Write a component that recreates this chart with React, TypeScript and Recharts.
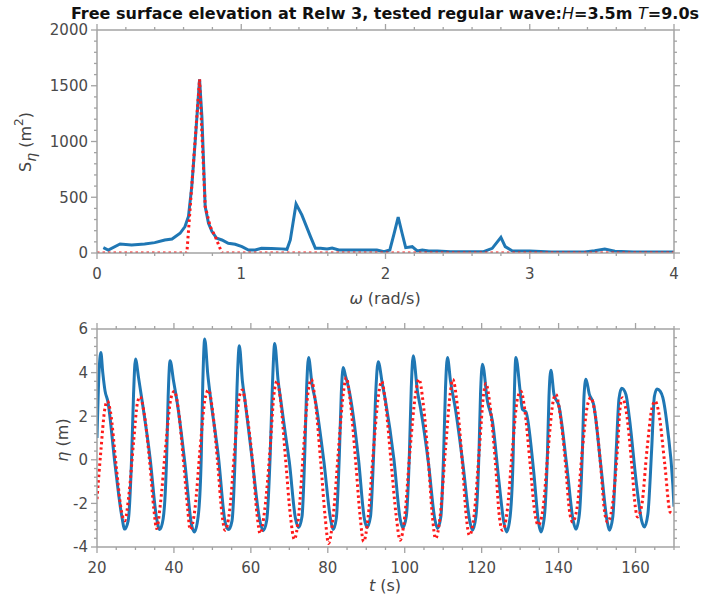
import React from 'react';
import { LineChart, Line, XAxis, YAxis } from 'recharts';

const FONT = '"DejaVu Sans", Verdana, sans-serif';
const BLUE = '#1f77b4';
const RED = '#ff1a1a';
const AXIS = '#a3a3a3';
const TICK_TEXT = '#4a4a4a';

// ---------- Spectrum (top panel) ----------
const specOmegaBlue = [
  0.044, 0.078, 0.16, 0.24, 0.33, 0.4, 0.47, 0.52, 0.576, 0.61, 0.634, 0.657, 0.68, 0.711, 0.727,
  0.75, 0.773, 0.797, 0.83, 0.866, 0.91, 0.958, 1.005, 1.05, 1.097, 1.14, 1.21, 1.28, 1.317, 1.34,
  1.38, 1.42, 1.48, 1.514, 1.55, 1.595, 1.63, 1.676, 1.757, 1.85, 1.94, 1.99, 2.03, 2.06, 2.088,
  2.115, 2.14, 2.185, 2.22, 2.255, 2.3, 2.36, 2.45, 2.57, 2.68, 2.74, 2.8, 2.83, 2.88, 2.94, 3.0,
  3.15, 3.38, 3.45, 3.52, 3.59, 3.72, 4.0,
];
const specSBlue = [
  48, 27, 81, 72, 81, 93, 117, 126, 177, 237, 327, 597, 988, 1558, 1228,
  417, 267, 192, 132, 117, 87, 78, 57, 27, 27, 42, 40, 37, 33, 117,
  440, 342, 147, 42, 42, 36, 45, 27, 27, 27, 27, 12, 27, 177, 321,
  177, 48, 57, 18, 27, 18, 18, 12, 12, 12, 42, 141, 57, 18, 18, 18,
  10, 10, 21, 36, 15, 10, 10,
];
const specOmegaRed = [0, 0.623, 0.711, 0.75, 0.785, 0.82, 0.866, 4.0];
const specSRed = [0, 0, 1558, 417, 237, 147, 0, 0];

// ---------- Time series (bottom panel) ----------
const timeBlue = [
  20.0, 20.5, 21.0, 21.5, 22.1, 22.8, 24.7, 26.4, 27.2, 28.1, 29.0, 29.5, 30.0, 30.8, 31.6, 33.8,
  35.5, 36.3, 37.2, 38.1, 38.5, 39.0, 39.9, 40.8, 42.9, 44.6, 45.3, 46.3, 47.1, 47.5, 48.0, 48.8,
  49.4, 51.6, 53.3, 54.2, 55.1, 55.9, 56.4, 57.0, 57.8, 58.5, 60.3, 62.4, 63.2, 64.1, 65.0, 65.6,
  66.2, 67.1, 67.8, 69.0, 70.0, 71.6, 72.4, 73.3, 74.0, 74.5, 75.0, 75.9, 76.8, 79.0, 80.7, 81.4,
  82.2, 83.0, 83.5, 84.0, 84.6, 85.4, 88.0, 89.5, 90.2, 91.1, 91.9, 92.5, 93.1, 94.2, 95.0, 97.2,
  98.8, 99.5, 100.4, 101.2, 101.7, 102.2, 103.3, 104.1, 106.2, 107.8, 108.5, 109.4, 110.1, 110.6,
  111.1, 111.9, 113.2, 115.2, 116.9, 117.6, 118.5, 119.3, 119.7, 120.2, 121.5, 122.8, 124.5, 125.8,
  126.5, 127.4, 128.2, 128.5, 128.9, 130.0, 130.6, 131.5, 133.5, 134.8, 135.4, 136.3, 137.1, 137.5,
  138.0, 138.8, 140.1, 142.2, 143.8, 144.5, 145.4, 146.2, 146.6, 147.1, 148.0, 149.1, 151.0, 152.6,
  153.2, 154.1, 155.0, 155.7, 156.4, 157.5, 158.4, 160.3, 161.6, 162.3, 163.2, 164.2, 164.9, 165.6,
  166.4, 167.1, 168.4, 169.7, 170.0,
];
const etaBlue = [
  1.0, 3.9, 4.92, 4.0, 3.15, 2.69, -0.23, -2.54, -3.18, -2.8, 0.1, 3.0, 4.62, 3.77, 2.85, 0.08,
  -2.69, -3.2, -2.7, 0.1, 2.9, 4.54, 3.61, 2.69, -0.23, -3.0, -3.31, -2.6, 0.1, 3.5, 5.54, 3.92,
  3.0, 0.08, -2.85, -3.2, -2.8, 0.1, 3.3, 5.23, 3.61, 2.69, 0.08, -2.85, -3.25, -2.8, 0.1, 3.4,
  5.33, 3.61, 2.7, 1.15, -0.1, -2.7, -3.1, -2.6, 0.2, 3.3, 4.69, 3.46, 2.69, -0.1, -2.7, -3.2,
  -2.7, 0.2, 3.0, 4.23, 3.85, 3.31, 0.0, -2.7, -3.1, -2.6, 0.2, 3.2, 4.5, 3.46, 2.7, 0.0,
  -2.7, -3.12, -2.6, 0.2, 3.3, 4.77, 3.15, 2.38, -0.2, -2.7, -3.15, -2.6, 0.2, 3.3,
  4.69, 3.61, 2.31, -0.3, -2.8, -3.23, -2.6, 0.3, 3.0, 4.38, 2.69, 1.77, -1.0, -2.9,
  -3.31, -2.6, 0.3, 3.0, 4.69, 3.15, 2.31, 2.2, -0.5, -2.9, -3.31, -2.6, 0.3, 2.9,
  4.11, 3.0, 2.46, -0.4, -2.8, -3.18, -2.5, 0.5, 2.9, 3.69, 3.0, 2.54, -0.3, -2.8,
  -3.23, -2.6, 0.5, 2.8, 3.28, 3.0, 1.92, -1.2, -2.8, -3.08, -2.5, 0.5, 2.9, 3.25,
  3.15, 2.85, 1.31, -1.15, -2.15,
];
const timeRed = [
  20.0, 21.0, 22.0, 22.7, 23.5, 25.0, 26.4, 27.2, 28.3, 29.5, 30.5, 31.2, 32.2, 33.8, 34.8, 35.5,
  36.5, 37.8, 39.2, 40.1, 41.0, 42.6, 43.6, 44.2, 45.5, 46.8, 48.2, 49.0, 50.0, 51.3, 52.5, 53.3,
  54.5, 55.8, 57.0, 57.8, 58.8, 60.5, 61.6, 62.4, 63.6, 65.0, 66.0, 66.8, 67.8, 69.0, 70.3, 71.3,
  72.4, 73.7, 74.8, 75.7, 76.8, 78.2, 79.3, 80.2, 81.4, 82.8, 84.0, 84.8, 85.9, 87.3, 88.4, 89.3,
  90.5, 91.9, 93.2, 94.0, 95.0, 96.5, 97.8, 98.8, 100.0, 101.4, 102.8, 103.7, 104.8, 106.2, 107.2,
  108.0, 109.2, 110.6, 111.8, 112.5, 113.6, 115.0, 116.0, 116.8, 118.0, 119.4, 120.5, 121.1, 122.1,
  123.6, 124.6, 125.4, 126.6, 128.0, 129.3, 130.2, 131.2, 132.6, 133.8, 134.7, 135.9, 137.3, 138.5,
  139.3, 140.3, 141.8, 142.8, 143.6, 144.8, 146.2, 147.5, 148.4, 149.4, 150.9, 151.9, 152.7, 153.9,
  155.3, 156.0, 156.6, 157.6, 159.0, 159.9, 160.5, 161.6, 163.0, 164.3, 165.1, 166.0, 167.6, 169.0,
  170.0,
];
const etaRed = [
  -1.8, 0.4, 2.3, 2.69, 2.2, -0.3, -2.4, -2.8, -1.6, 0.8, 2.6, 2.89, 2.2, -0.3, -2.3, -3.15,
  -2.0, 0.5, 2.8, 3.15, 2.5, -0.3, -2.3, -3.2, -2.2, 0.5, 2.9, 3.2, 2.3, 0.0, -2.5, -3.23,
  -2.3, 0.5, 2.9, 3.2, 2.3, -0.2, -2.5, -3.38, -2.3, 0.5, 3.0, 3.61, 2.6, 0.08, -2.6, -3.65,
  -2.6, 0.5, 3.0, 3.69, 2.6, -0.2, -2.6, -3.84, -2.6, 0.5, 3.0, 3.77, 2.6, -0.2, -2.6, -3.75,
  -2.6, 0.5, 3.0, 3.6, 2.6, -0.2, -2.6, -3.69, -2.6, 0.5, 3.0, 3.69, 2.6, -0.2, -2.6,
  -3.61, -2.6, 0.5, 3.0, 3.69, 2.6, -0.2, -2.6, -3.46, -2.6, 0.5, 3.0, 3.5, 2.6,
  -0.2, -2.6, -3.23, -2.4, 0.5, 2.8, 3.15, 2.3, -0.2, -2.4, -3.0, -2.3, 0.5, 2.6,
  3.0, 2.2, -0.2, -2.3, -2.85, -2.2, 0.5, 2.5, 2.85, 2.2, -0.2, -2.3, -2.85, -2.2,
  0.5, 2.4, 2.85, 2.2, -0.2, -2.1, -2.62, -2.1, 0.5, 2.4, 2.69, 2.2, -0.2, -2.4,
  -2.5,
];

// ---------- Ticks ----------
const specXMajor = [0, 1, 2, 3, 4];
const specYMajor = [0, 500, 1000, 1500, 2000];
const timeXMajor = [20, 40, 60, 80, 100, 120, 140, 160];
const timeYMajor = [-4, -2, 0, 2, 4, 6];

const range = (a: number, b: number, step: number) => {
  const out: number[] = [];
  const n = Math.round((b - a) / step);
  for (let i = 0; i <= n; i++) out.push(Math.round((a + i * step) * 1000) / 1000);
  return out;
};
const specXTicks = range(0, 4, 0.2);
const specYTicks = range(0, 2000, 100);
const timeXTicks = range(20, 170, 5);
const timeYTicks = range(-4, 6, 0.4);

const specBlueData = specOmegaBlue.map((w, i) => ({ x: w, y: specSBlue[i] }));
const specRedData = specOmegaRed.map((w, i) => ({ x: w, y: specSRed[i] }));
const blueTS = timeBlue.map((t, i) => ({ x: t, y: etaBlue[i] }));
const redTS = timeRed.map((t, i) => ({ x: t, y: etaRed[i] }));

type Orient = 'bottom' | 'top' | 'left' | 'right';
const makeTick = (orient: Orient, majors: number[], showLabel: boolean, offset: number) =>
  (props: any) => {
    const { x, y, payload } = props;
    const v = Number(payload.value);
    const major = majors.some((m) => Math.abs(m - v) < 1e-6);
    const len = major ? 6 : 3;
    let line: React.ReactNode = null;
    if (orient === 'bottom') line = <line x1={x} y1={y} x2={x} y2={y + len} stroke={AXIS} strokeWidth={1.3} />;
    if (orient === 'top') line = <line x1={x} y1={y} x2={x} y2={y - len} stroke={AXIS} strokeWidth={1.3} />;
    if (orient === 'left') line = <line x1={x - len} y1={y} x2={x} y2={y} stroke={AXIS} strokeWidth={1.3} />;
    if (orient === 'right') line = <line x1={x} y1={y} x2={x + len} y2={y} stroke={AXIS} strokeWidth={1.3} />;
    let text: React.ReactNode = null;
    if (showLabel && major) {
      const label = String(v);
      if (orient === 'bottom')
        text = (
          <text x={x} y={y + offset} textAnchor="middle" fontSize={15} fontFamily={FONT} fill={TICK_TEXT}>
            {label}
          </text>
        );
      if (orient === 'left')
        text = (
          <text x={x - offset} y={y} dy="0.36em" textAnchor="end" fontSize={15} fontFamily={FONT} fill={TICK_TEXT}>
            {label}
          </text>
        );
    }
    return (
      <g>
        {line}
        {text}
      </g>
    );
  };

const axisLine = { stroke: AXIS, strokeWidth: 1.5 };
const labelStyle: React.CSSProperties = {
  position: 'absolute',
  fontFamily: FONT,
  fontSize: 16,
  color: '#444',
  whiteSpace: 'nowrap',
};

export default function App() {
  return (
    <div style={{ position: 'absolute', left: 0, top: 0, width: 705, height: 598, background: '#fff' }}>
      <div
        style={{
          position: 'absolute',
          left: 385,
          top: 13,
          transform: 'translate(-50%, -50%)',
          fontFamily: FONT,
          fontSize: 16,
          fontWeight: 'bold',
          color: '#111',
          whiteSpace: 'nowrap',
        }}
      >
        Free surface elevation at Relw 3, tested regular wave:<i style={{ fontWeight: 'normal' }}>H</i>=3.5m{' '}
        <i style={{ fontWeight: 'normal' }}>T</i>=9.0s
      </div>

      {/* Top panel */}
      <div style={{ position: 'absolute', left: 0, top: 0 }}>
        <LineChart width={705} height={310} margin={{ top: 30, right: 31, bottom: 0, left: 0 }}>
          <XAxis
            type="number"
            dataKey="x"
            domain={[0, 4]}
            ticks={specXTicks}
            interval={0}
            allowDataOverflow
            height={57}
            tickSize={0}
            tickMargin={0}
            tickLine={false}
            axisLine={axisLine}
            tick={makeTick('bottom', specXMajor, true, 25.5)}
          />
          <XAxis
            xAxisId="top"
            orientation="top"
            type="number"
            dataKey="x"
            domain={[0, 4]}
            ticks={specXTicks}
            interval={0}
            allowDataOverflow
            height={1}
            mirror
            tickSize={0}
            tickMargin={0}
            tickLine={false}
            axisLine={axisLine}
            tick={makeTick('top', specXMajor, false, 0)}
          />
          <YAxis
            type="number"
            domain={[0, 2000]}
            ticks={specYTicks}
            interval={0}
            allowDataOverflow
            width={97}
            tickSize={0}
            tickMargin={0}
            tickLine={false}
            axisLine={axisLine}
            tick={makeTick('left', specYMajor, true, 9)}
          />
          <YAxis
            yAxisId="right"
            orientation="right"
            type="number"
            domain={[0, 2000]}
            ticks={specYTicks}
            interval={0}
            allowDataOverflow
            width={1}
            mirror
            tickSize={0}
            tickMargin={0}
            tickLine={false}
            axisLine={axisLine}
            tick={makeTick('right', specYMajor, false, 0)}
          />
          <Line
            data={specBlueData}
            dataKey="y"
            xAxisId="top"
            yAxisId="right"
            type="linear"
            stroke="none"
            dot={false}
            isAnimationActive={false}
          />
          <Line
            data={specBlueData}
            dataKey="y"
            type="linear"
            stroke={BLUE}
            strokeWidth={3}
            dot={false}
            isAnimationActive={false}
          />
          <Line
            data={specRedData}
            dataKey="y"
            type="linear"
            stroke={RED}
            strokeWidth={3}
            strokeDasharray="2.5 3"
            dot={false}
            isAnimationActive={false}
          />
        </LineChart>
      </div>

      {/* Bottom panel */}
      <div style={{ position: 'absolute', left: 0, top: 300 }}>
        <LineChart width={705} height={298} margin={{ top: 29, right: 31, bottom: 0, left: 0 }}>
          <XAxis
            type="number"
            dataKey="x"
            domain={[20, 170]}
            ticks={timeXTicks}
            interval={0}
            allowDataOverflow
            height={51}
            tickSize={0}
            tickMargin={0}
            tickLine={false}
            axisLine={axisLine}
            tick={makeTick('bottom', timeXMajor, true, 25.5)}
          />
          <XAxis
            xAxisId="top"
            orientation="top"
            type="number"
            dataKey="x"
            domain={[20, 170]}
            ticks={timeXTicks}
            interval={0}
            allowDataOverflow
            height={1}
            mirror
            tickSize={0}
            tickMargin={0}
            tickLine={false}
            axisLine={axisLine}
            tick={makeTick('top', timeXMajor, false, 0)}
          />
          <YAxis
            type="number"
            domain={[-4, 6]}
            ticks={timeYTicks}
            interval={0}
            allowDataOverflow
            width={97}
            tickSize={0}
            tickMargin={0}
            tickLine={false}
            axisLine={axisLine}
            tick={makeTick('left', timeYMajor, true, 9)}
          />
          <YAxis
            yAxisId="right"
            orientation="right"
            type="number"
            domain={[-4, 6]}
            ticks={timeYTicks}
            interval={0}
            allowDataOverflow
            width={1}
            mirror
            tickSize={0}
            tickMargin={0}
            tickLine={false}
            axisLine={axisLine}
            tick={makeTick('right', timeYMajor, false, 0)}
          />
          <Line
            data={blueTS}
            dataKey="y"
            xAxisId="top"
            yAxisId="right"
            type="monotone"
            stroke="none"
            dot={false}
            isAnimationActive={false}
          />
          <Line
            data={blueTS}
            dataKey="y"
            type="monotone"
            stroke={BLUE}
            strokeWidth={3}
            dot={false}
            isAnimationActive={false}
          />
          <Line
            data={redTS}
            dataKey="y"
            type="monotone"
            stroke={RED}
            strokeWidth={3}
            strokeDasharray="2.5 3"
            dot={false}
            isAnimationActive={false}
          />
        </LineChart>
      </div>

      {/* Axis titles */}
      <div style={{ ...labelStyle, left: 385, top: 298, transform: 'translate(-50%, -50%)' }}>
        <i>ω</i> (rad/s)
      </div>
      <div style={{ ...labelStyle, left: 385, top: 585, transform: 'translate(-50%, -50%)' }}>
        <i>t</i> (s)
      </div>
      <div
        style={{
          ...labelStyle,
          left: 25,
          top: 142,
          transform: 'translate(-50%, -50%) rotate(-90deg)',
          lineHeight: '20px',
        }}
      >
        S<sub style={{ fontSize: 14, fontStyle: 'italic', verticalAlign: '-0.35em' }}>η</sub> (m
        <sup style={{ fontSize: 12, verticalAlign: '0.6em' }}>2</sup>)
      </div>
      <div
        style={{
          ...labelStyle,
          left: 62,
          top: 440,
          transform: 'translate(-50%, -50%) rotate(-90deg)',
        }}
      >
        <i>η</i> (m)
      </div>
    </div>
  );
}
